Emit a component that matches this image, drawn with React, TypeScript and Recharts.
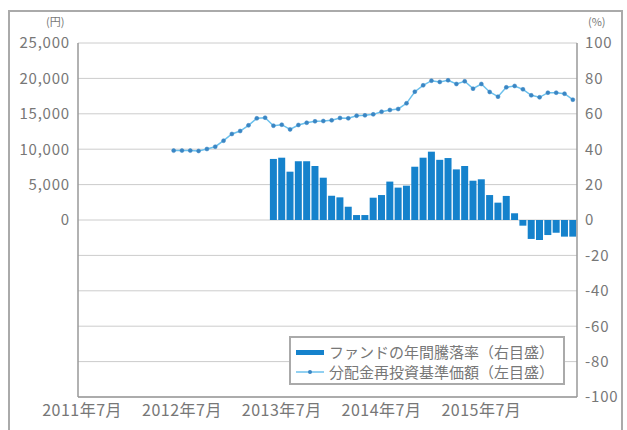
import React from 'react';
import {
  ComposedChart,
  Bar,
  Line,
  XAxis,
  YAxis,
  CartesianGrid,
} from 'recharts';

// 60 months, 2011/7 .. 2016/6
const startYear = 2011;
const startMonth = 7;
const months: string[] = [];
for (let i = 0; i < 60; i++) {
  const m = startMonth - 1 + i;
  months.push(`${startYear + Math.floor(m / 12)}年${(m % 12) + 1}月`);
}

const xTicks = ['2011年7月', '2012年7月', '2013年7月', '2014年7月', '2015年7月'];
const leftTicks = [0, 5000, 10000, 15000, 20000, 25000];
const rightTicks = [-100, -80, -60, -40, -20, 0, 20, 40, 60, 80, 100];

// 分配金再投資基準価額 (円), from 2012/6
const navStart = 11;
const navValues = [
  9800, 9800, 9800, 9750, 10030, 10350, 11200, 12150, 12570, 13370,
  14360, 14450, 13320, 13460, 12800, 13420, 13740, 13940, 13980, 14080,
  14410, 14360, 14730, 14780, 14920, 15300, 15540, 15680, 16480, 18120,
  19020, 19680, 19500, 19730, 19210, 19590, 18550, 19210, 18080, 17420,
  18740, 18930, 18460, 17610, 17330, 17980, 17980, 17840, 16990,
];

// ファンドの年間騰落率 (%), from 2013/6
const retStart = 23;
const returnValues = [
  34.5, 35.2, 27.3, 33.2, 33.2, 30.5, 23.9, 13.7, 12.8, 7.5,
  2.8, 2.8, 12.6, 14.1, 21.7, 18.3, 19.4, 30.1, 35.2, 38.6,
  34.0, 35.0, 28.6, 30.5, 22.2, 23.0, 14.1, 9.8, 13.6, 3.8,
  -3.2, -10.7, -11.3, -8.5, -7.2, -9.4, -9.4,
];

const data = months.map((m, i) => ({
  m,
  nav: i >= navStart ? navValues[i - navStart] ?? null : null,
  ret: i >= retStart ? returnValues[i - retStart] ?? null : null,
}));

const FONT = '"Noto Sans CJK JP", "Noto Sans", sans-serif';
const TXT = '#777';
const BAR = '#1582cc';
const LINE = '#6cc0ec';
const DOT = '#3a86c4';

const LegendBox = () => (
  <div
    style={{
      position: 'absolute',
      left: 289,
      top: 336,
      border: '2px solid #aaa',
      background: '#fff',
      width: 276,
      height: 49,
      boxSizing: 'border-box',
      padding: '4px 0 0 5px',
      fontFamily: FONT,
      fontSize: 15,
      color: TXT,
      lineHeight: '20px',
    }}
  >
    <div style={{ display: 'flex', alignItems: 'center' }}>
      <span style={{ display: 'inline-block', width: 28, height: 5, background: BAR, marginRight: 5 }} />
      ファンドの年間騰落率（右目盛）
    </div>
    <div style={{ display: 'flex', alignItems: 'center' }}>
      <svg width={28} height={8} style={{ marginRight: 5 }}>
        <line x1={0} y1={4} x2={28} y2={4} stroke={LINE} strokeWidth={1.5} />
        <circle cx={14} cy={4} r={2} fill={DOT} />
      </svg>
      分配金再投資基準価額（左目盛）
    </div>
  </div>
);

const unitStyle: React.CSSProperties = {
  position: 'absolute',
  top: 16,
  fontFamily: FONT,
  fontSize: 11,
  lineHeight: '11px',
  color: TXT,
};

export default function App() {
  return (
    <div style={{ position: 'absolute', left: 0, top: 0, width: 627, height: 430, background: '#fff' }}>
      <div
        style={{
          position: 'absolute',
          left: 8,
          top: 10,
          width: 615,
          height: 425,
          borderLeft: '2px solid #aaa',
          borderRight: '2px solid #aaa',
          borderTop: '2px solid #aaa',
          boxSizing: 'border-box',
        }}
      />
      <div style={{ ...unitStyle, left: 46 }}>(円)</div>
      <div style={{ ...unitStyle, left: 588 }}>(%)</div>
      <ComposedChart
        width={627}
        height={430}
        data={data}
        margin={{ top: 43, right: 0, bottom: 0, left: 0 }}
        barCategoryGap={0.6}
        style={{ position: 'absolute', left: 0, top: 0, fontFamily: FONT }}
      >
        <CartesianGrid yAxisId="right" vertical={false} stroke="#ccc" />
        <XAxis
          dataKey="m"
          ticks={xTicks}
          interval={0}
          height={33}
          tickLine={false}
          axisLine={{ stroke: '#999', strokeWidth: 1.5 }}
          tick={{ fill: TXT, fontSize: 16, letterSpacing: 0.5 }}
        />
        <XAxis
          xAxisId="top"
          dataKey="m"
          orientation="top"
          height={0}
          tick={false}
          tickLine={false}
          axisLine={{ stroke: '#999', strokeWidth: 1.5 }}
        />
        <YAxis
          yAxisId="left"
          width={78}
          domain={[-25000, 25000]}
          ticks={leftTicks}
          tickLine={false}
          axisLine={{ stroke: '#999', strokeWidth: 1.5 }}
          tickFormatter={(v: number) => v.toLocaleString('en-US')}
          tick={{ fill: TXT, fontSize: 15, letterSpacing: 0.8 }}
        />
        <YAxis
          yAxisId="right"
          orientation="right"
          width={50}
          domain={[-100, 100]}
          ticks={rightTicks}
          interval={0}
          tickLine={false}
          axisLine={{ stroke: '#999', strokeWidth: 1.5 }}
          tick={{ fill: TXT, fontSize: 15, letterSpacing: 0.8 }}
        />
        <Bar yAxisId="right" dataKey="ret" fill={BAR} isAnimationActive={false} />
        <Line
          yAxisId="left"
          dataKey="nav"
          stroke={LINE}
          strokeWidth={1.5}
          dot={{ r: 2, fill: DOT, stroke: DOT, strokeWidth: 0.5 }}
          connectNulls={false}
          isAnimationActive={false}
        />
      </ComposedChart>
      <LegendBox />
    </div>
  );
}
